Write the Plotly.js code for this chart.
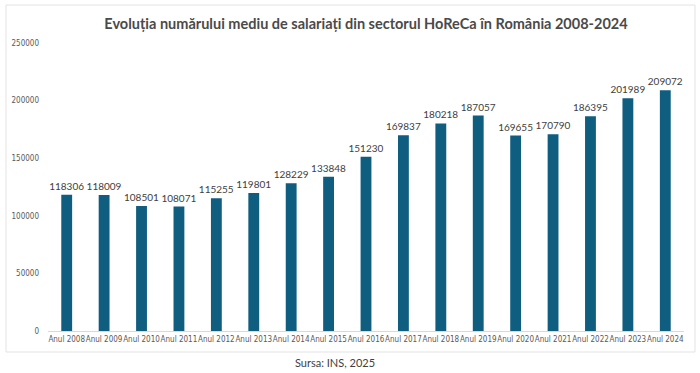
<!DOCTYPE html>
<html>
<head>
<meta charset="utf-8">
<script src="https://cdn.plot.ly/plotly-3.0.1.min.js"></script>
<style>
html,body{margin:0;padding:0;background:#fff;}
#chart{width:700px;height:373px;}
</style>
</head>
<body>
<div id="chart"></div>
<script>
const categories = ["Anul 2008","Anul 2009","Anul 2010","Anul 2011","Anul 2012","Anul 2013","Anul 2014","Anul 2015","Anul 2016","Anul 2017","Anul 2018","Anul 2019","Anul 2020","Anul 2021","Anul 2022","Anul 2023","Anul 2024"];
const employees = [118306,118009,108501,108071,115255,119801,128229,133848,151230,169837,180218,187057,169655,170790,186395,201989,209072];
const yTickVals = [0,50000,100000,150000,200000,250000];
const yTickText = ["0","50000","100000","150000","200000","250000"];
const titleText = "Evoluția numărului mediu de salariați din sectorul HoReCa în România 2008-2024";
const sourceText = "Sursa: INS, 2025";

const trace = {
  type: "bar",
  x: categories,
  y: employees,
  width: 0.29,
  marker: {color: "#0f5e80"},
  text: employees.map(String),
  textposition: "outside",
  constraintext: "none",
  cliponaxis: false,
  textfont: {family: "Lato, 'Open Sans', sans-serif", size: 10, color: "#404040"},
  outsidetextfont: {family: "Lato, 'Open Sans', sans-serif", size: 10, color: "#404040"},
  hoverinfo: "x+y"
};

const layout = {
  width: 700,
  height: 373,
  margin: {l: 48, r: 16, t: 43, b: 42},
  paper_bgcolor: "#ffffff",
  plot_bgcolor: "#ffffff",
  showlegend: false,
  title: {
    text: "<b>" + titleText + "</b>",
    x: 0.5, xref: "paper", xanchor: "center",
    y: 0.935, yref: "container", yanchor: "middle",
    font: {family: "Lato, 'Open Sans', sans-serif", size: 14.5, color: "#4a4a4a"}
  },
  xaxis: {
    type: "category",
    tickangle: 0,
    tickfont: {family: "'Liberation Sans Narrow', 'DejaVu Sans Condensed', sans-serif", size: 8, color: "#595959"},
    showline: true,
    linecolor: "#d9d9d9",
    linewidth: 1,
    ticks: "",
    showgrid: false,
    fixedrange: true
  },
  yaxis: {
    range: [0, 250000],
    tickvals: yTickVals,
    ticktext: yTickText,
    tickfont: {family: "'Liberation Sans Narrow', 'DejaVu Sans Condensed', sans-serif", size: 8, color: "#595959"},
    showgrid: false,
    zeroline: false,
    showline: false,
    ticks: "",
    ticklabelstandoff: 8,
    fixedrange: true
  },
  shapes: [{
    type: "rect", xref: "paper", yref: "paper",
    x0: (6 - 48) / 636, x1: (695 - 48) / 636,
    y0: (331 - 352) / 288, y1: (331 - 5) / 288,
    line: {color: "#e3e3e3", width: 1},
    fillcolor: "rgba(0,0,0,0)",
    layer: "below"
  }],
  annotations: [{
    text: sourceText,
    xref: "paper", yref: "paper",
    x: (335 - 48) / 636, y: (331 - 362) / 288,
    xanchor: "center", yanchor: "middle",
    showarrow: false,
    font: {family: "Lato, 'Open Sans', sans-serif", size: 11, color: "#404040"}
  }]
};

Plotly.newPlot("chart", [trace], layout, {displayModeBar: false, staticPlot: true});
</script>
</body>
</html>
